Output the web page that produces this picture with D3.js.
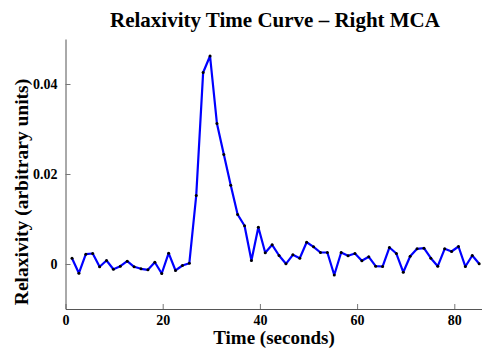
<!DOCTYPE html>
<html><head><meta charset="utf-8">
<script src="https://cdn.jsdelivr.net/npm/d3@7"></script>
<style>html,body{margin:0;padding:0;background:#fff;}svg{display:block;}</style>
</head><body>
<svg id="c" width="482" height="348"></svg>
<script>
const times = [1.34,2.76,4.18,5.60,7.02,8.44,9.86,11.28,12.70,14.12,15.54,16.96,18.38,19.80,21.22,22.64,24.06,25.48,26.90,28.32,29.74,31.16,32.58,34.00,35.42,36.84,38.26,39.68,41.10,42.52,43.94,45.36,46.78,48.20,49.62,51.04,52.46,53.88,55.30,56.72,58.14,59.56,60.98,62.40,63.82,65.24,66.66,68.08,69.50,70.92,72.34,73.76,75.18,76.60,78.02,79.44,80.86,82.28,83.70,85.12];
const relaxivity = [0.00129,-0.00204,0.00218,0.00233,-0.00062,0.00078,-0.00116,-0.00049,0.00062,-0.00062,-0.00107,-0.00129,0.00040,-0.00211,0.00240,-0.00144,-0.00033,0.00018,0.01522,0.04256,0.04622,0.03122,0.02433,0.01751,0.01100,0.00849,0.00078,0.00818,0.00249,0.00427,0.00189,0.00004,0.00204,0.00129,0.00484,0.00382,0.00256,0.00256,-0.00244,0.00256,0.00182,0.00233,0.00071,0.00160,-0.00049,-0.00056,0.00367,0.00233,-0.00182,0.00173,0.00338,0.00351,0.00129,-0.00049,0.00338,0.00278,0.00389,-0.00056,0.00189,0.00004];
const xTicks = [0,20,40,60,80];
const yTicks = [0,0.02,0.04];
const title = "Relaxivity Time Curve \u2013 Right MCA";
const xLabel = "Time (seconds)";
const yLabel = "Relaxivity (arbitrary units)";

const svg = d3.select("#c");
const L = 65.5, R = 482, T = 39, B = 309;
const x = d3.scaleLinear().domain([0, 85.7]).range([L, R]);
const y = d3.scaleLinear().domain([-0.01, 0.05]).range([B, T]);
const font = "'Liberation Serif','Times New Roman',serif";

const xa = svg.append("g").attr("transform", `translate(0,${B})`)
  .call(d3.axisBottom(x).tickValues(xTicks).tickSizeInner(-5).tickSizeOuter(0).tickPadding(6).tickFormat(d3.format("d")));
const ya = svg.append("g").attr("transform", `translate(${L},0)`)
  .call(d3.axisLeft(y).tickValues(yTicks).tickSizeInner(-5).tickSizeOuter(0).tickPadding(8).tickFormat(d => d === 0 ? "0" : d3.format(".2f")(d)));
[xa, ya].forEach(g => {
  g.select(".domain").attr("stroke", "#555").attr("stroke-width", 1);
  g.selectAll(".tick line").attr("stroke", "#777");
  g.selectAll(".tick text").attr("font-family", font).attr("font-weight", "bold").attr("font-size", 14).attr("fill", "#000");
});

svg.append("path").datum(times.map((t, i) => [t, relaxivity[i]]))
  .attr("fill", "none").attr("stroke", "#0000ff").attr("stroke-width", 2.2).attr("stroke-linejoin", "round")
  .attr("d", d3.line().x(d => x(d[0])).y(d => y(d[1])));
svg.append("g").selectAll("circle").data(times).join("circle")
  .attr("cx", d => x(d)).attr("cy", (d, i) => y(relaxivity[i])).attr("r", 1.5).attr("fill", "#000");

svg.append("text").attr("x", 275).attr("y", 27).attr("text-anchor", "middle")
  .attr("font-family", font).attr("font-weight", "bold").attr("font-size", 21).text(title);
svg.append("text").attr("x", 274).attr("y", 344).attr("text-anchor", "middle")
  .attr("font-family", font).attr("font-weight", "bold").attr("font-size", 19).text(xLabel);
svg.append("text").attr("transform", "translate(28,192) rotate(-90)").attr("text-anchor", "middle")
  .attr("font-family", font).attr("font-weight", "bold").attr("font-size", 19.5).text(yLabel);
</script>
</body></html>
